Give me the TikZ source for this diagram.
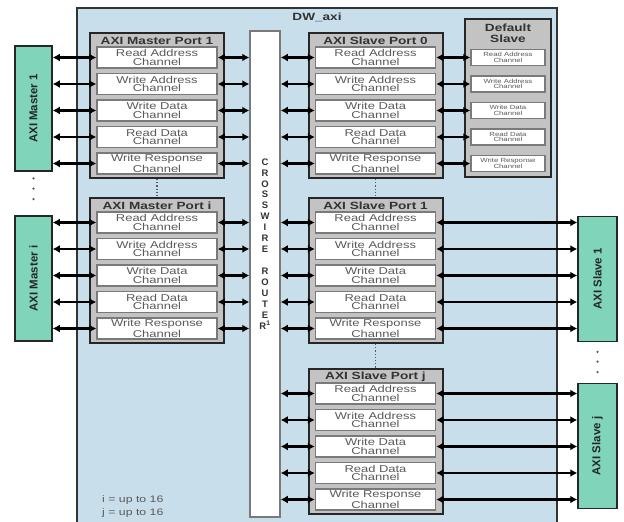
\documentclass[tikz,border=0pt]{standalone}
\usepackage{fontspec}
\usepackage{xcolor}
\usepackage{tikz}
\usetikzlibrary{positioning,arrows.meta}
\setmainfont{Liberation Sans}
\newfontfamily\widesf[FakeStretch=1.3]{Liberation Sans}
\definecolor{AxiBlue}{HTML}{C8DEEA}
\definecolor{PortGray}{HTML}{C3C3C3}
\definecolor{EdgeGray}{HTML}{7A7A7A}
\definecolor{MstGreen}{HTML}{80D4BA}
\definecolor{InkGray}{HTML}{5A5A5A}

\begin{document}
\begin{tikzpicture}[
    x=1bp, y=-1bp,
    outer/.style={draw=black!80, line width=2bp, fill=AxiBlue, minimum width=480bp, minimum height=522bp, inner sep=0pt},
    port/.style={draw=black!85, line width=2bp, fill=PortGray, minimum width=134bp, minimum height=145bp, inner sep=0pt},
    chan/.style={draw=EdgeGray, line width=1.5bp, fill=white, minimum width=120bp, minimum height=21bp,
      inner sep=0pt, align=center, text=InkGray, font=\widesf\fontsize{10}{8.5}\selectfont},
    tinychan/.style={chan, minimum width=74bp, minimum height=16bp, font=\widesf\fontsize{6}{5.5}\selectfont},
    ptitle/.style={inner sep=0pt, text=black!80, font=\widesf\fontsize{10.5}{11}\selectfont\bfseries, align=center},
    agent/.style={draw=black!85, line width=1.5bp, fill=MstGreen, minimum width=37bp, minimum height=125bp,
      inner sep=0pt},
    alabel/.style={rotate=90, inner sep=0pt, text=black!85, font=\fontsize{11.5}{12}\selectfont\bfseries},
    xbar/.style={draw=EdgeGray, line width=1.5bp, fill=white, minimum width=30bp, minimum height=486bp, inner sep=0pt},
    arr/.style={{Latex[length=7bp,width=8bp]}-{Latex[length=7bp,width=8bp]}, line width=2.2bp, draw=black},
    gap/.style={dotted, line width=1.2bp, draw=InkGray},
    dot/.style={circle, fill=InkGray, inner sep=0pt, minimum size=2.5bp},
    note/.style={anchor=west, inner sep=0pt, text=InkGray, font=\widesf\fontsize{9.5}{9}\selectfont}
  ]
    \useasboundingbox (0,0) rectangle (624,522);

    % the DW_axi block
    \node[outer] (dw) at (317,269) {};
    \node[ptitle] (dwt) at (317,17) {DW\_axi};

    % crosswire router
    \node[xbar] (xbar) at (265,274) {};
    \node[inner sep=0pt, align=center, text=black!80, font=\fontsize{9.5}{11}\selectfont\bfseries] (xlbl) at (265,244)
      {C\\R\\O\\S\\S\\W\\I\\R\\E\\ \\R\\O\\U\\T\\E\\R$^{\mathbf 1}$};

    % ports with their five channels
    \foreach \nm/\cx/\ty/\ttl in {mp1/157/33/AXI Master Port 1, mpi/157/198/AXI Master Port i,
        sp0/375.5/33/AXI Slave Port 0, sp1/375.5/198/AXI Slave Port 1, spj/375.5/369/AXI Slave Port j} {
      \node[port] (\nm) at (\cx,{\ty+72.5}) {};
      \node[ptitle] (\nm-t) at (\cx,{\ty+7.5}) {\ttl};
      \foreach \k/\txt in {1/{Read Address\\Channel}, 2/{Write Address\\Channel}, 3/{Write Data\\Channel},
          4/{Read Data\\Channel}, 5/{Write Response\\Channel}}
        \node[chan] (\nm-\k) at (\cx,{\ty+24.5+26.5*(\k-1)}) {\txt};
    }

    % default slave
    \node[port, minimum width=86bp, minimum height=158bp] (dft) at (508,98) {};
    \node[ptitle] (dft-t) at (508,33) {Default\\Slave};
    \foreach \k/\txt in {1/{Read Address\\Channel}, 2/{Write Address\\Channel}, 3/{Write Data\\Channel},
        4/{Read Data\\Channel}, 5/{Write Response\\Channel}}
      \node[tinychan] (dft-\k) at (508,{57.5+26.5*(\k-1)}) {\txt};

    % masters and slaves outside
    \node[agent] (mst1) at (33.5,108.5) {};
    \node[alabel] (mst1-l) at (mst1) {AXI Master 1};
    \node[agent] (msti) at (33.5,278.5) {};
    \node[alabel] (msti-l) at (msti) {AXI Master i};
    \node[agent, minimum width=39bp] (slv1) at (597.5,279) {};
    \node[alabel] (slv1-l) at (slv1) {AXI Slave 1};
    \node[agent, minimum width=39bp] (slvj) at (597.5,446) {};
    \node[alabel] (slvj-l) at (slvj) {AXI Slave j};

    % connections
    \foreach \k in {1,...,5} {
      \draw[arr] (mp1-\k.west -| mst1.east) -- (mp1-\k.west);
      \draw[arr] (mpi-\k.west -| msti.east) -- (mpi-\k.west);
      \draw[arr] (mp1-\k.east) -- (mp1-\k.east -| xbar.west);
      \draw[arr] (mpi-\k.east) -- (mpi-\k.east -| xbar.west);
      \draw[arr] (sp0-\k.west -| xbar.east) -- (sp0-\k.west);
      \draw[arr] (sp1-\k.west -| xbar.east) -- (sp1-\k.west);
      \draw[arr] (spj-\k.west -| xbar.east) -- (spj-\k.west);
      \draw[arr] (sp0-\k.east) -- (sp0-\k.east -| dft-\k.west);
      \draw[arr] (sp1-\k.east) -- (sp1-\k.east -| slv1.west);
      \draw[arr] (spj-\k.east) -- (spj-\k.east -| slvj.west);
    }

    % more of the same
    \draw[gap] (mp1.south) -- (mpi.north);
    \draw[gap] (sp0.south) -- (sp1.north);
    \draw[gap] (sp1.south) -- (spj.north);
    \path (mst1.south) -- (msti.north)
      foreach \p in {0.15,0.39,0.63} {node[dot, pos=\p] {}};
    \path (slv1.south) -- (slvj.north)
      foreach \p in {0.24,0.48,0.74} {node[dot, pos=\p] {}};

    \node[note] (ni) at (102,500) {i = up to 16};
    \node[note] (nj) at (102,513) {j = up to 16};
  \end{tikzpicture}
\end{document}
